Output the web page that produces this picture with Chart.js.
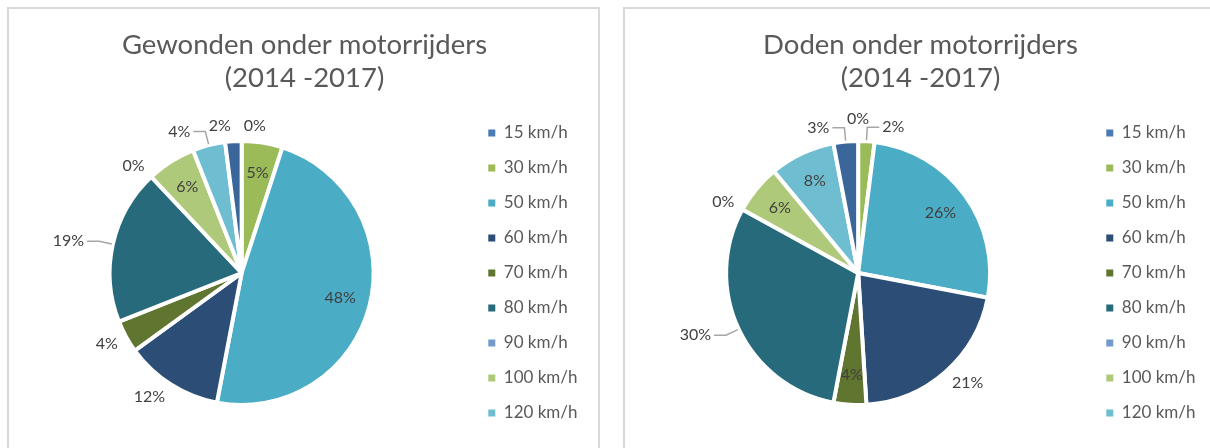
<!DOCTYPE html>
<html>
<head>
<meta charset="utf-8">
<script src="https://cdn.jsdelivr.net/npm/chart.js@4.4.1/dist/chart.umd.min.js"></script>
<style>
  body { margin: 0; background: #fff; width: 1210px; height: 448px; overflow: hidden; position: relative; }
  .panel { position: absolute; top: 7px; height: 470px; border: 2px solid #d9d9d9; background: #fff; }
  #p1 { left: 7px; width: 589px; }
  #p2 { left: 623px; width: 600px; }
  canvas { display: block; }
</style>
</head>
<body>
<div class="panel" id="p1"><canvas id="gewondenChart" width="589" height="439"></canvas></div>
<div class="panel" id="p2"><canvas id="dodenChart" width="595" height="439"></canvas></div>
<script>
// categories (last one is not in the legend of the original)
const speeds = ['15 km/h', '30 km/h', '50 km/h', '60 km/h', '70 km/h', '80 km/h', '90 km/h', '100 km/h', '120 km/h', 'Onbekend'];
const legendCount = 9;

// shares in %
const gewonden = [0, 5, 48, 12, 4, 19, 0, 6, 4, 2];
const doden = [0, 2, 26, 21, 4, 30, 0, 6, 8, 3];

const gewondenTitle = ['Gewonden onder motorrijders', '(2014 -2017)'];
const dodenTitle = ['Doden onder motorrijders', '(2014 -2017)'];

const sliceColors = ['#4a7bb7', '#9bbb59', '#4bacc6', '#2c4d75', '#5f7530', '#276a7c', '#729aca', '#afc97a', '#6fbdd1', '#3a6699'];

// where each data label goes: in = inside slice, out = beside slice, line = with leader line, top = centred above
const gewondenPlace = ['out', 'in', 'in', 'out', 'out', 'line', 'out', 'in', 'line', 'out'];
const dodenPlace = ['top', 'line', 'in', 'out', 'in', 'line', 'out', 'in', 'in', 'line'];

const FONT = 'Lato, "Open Sans", sans-serif';
const TEXT = '#595959';

const pieLabels = {
  id: 'pieLabels',
  afterDatasetsDraw(chart, args, opts) {
    const ctx = chart.ctx;
    const meta = chart.getDatasetMeta(0);
    const values = chart.data.datasets[0].data;
    const total = values.reduce((a, b) => a + b, 0);
    ctx.save();
    ctx.font = '16px ' + FONT;
    ctx.fillStyle = '#404040';
    ctx.strokeStyle = '#a6a6a6';
    ctx.lineWidth = 1.5;
    ctx.textBaseline = 'middle';
    meta.data.forEach((arc, i) => {
      const p = arc.getProps(['x', 'y', 'startAngle', 'endAngle', 'outerRadius'], true);
      const mid = (p.startAngle + p.endAngle) / 2;
      const dx = Math.cos(mid), dy = Math.sin(mid);
      const r = p.outerRadius;
      const text = Math.round(values[i] / total * 100) + '%';
      const place = opts.place[i];
      const right = dx >= 0;
      if (place === 'in') {
        ctx.textAlign = 'center';
        ctx.fillText(text, p.x + dx * r * 0.77, p.y + dy * r * 0.77);
      } else if (place === 'top') {
        ctx.textAlign = 'center';
        ctx.fillText(text, p.x + dx * (r + 22), p.y + dy * (r + 22));
      } else if (place === 'out') {
        const ax = p.x + dx * (r + 7);
        const ay = p.y + dy * (r + 7) + dy * 8;
        ctx.textAlign = right ? 'left' : 'right';
        ctx.fillText(text, ax + (right ? 2 : -2), ay);
      } else {
        const ex = p.x + dx * (r + 1), ey = p.y + dy * (r + 1);
        const bx = p.x + dx * (r + 14), by = p.y + dy * (r + 14);
        const hx = bx + (right ? 12 : -12);
        ctx.beginPath();
        ctx.moveTo(ex, ey);
        ctx.lineTo(bx, by);
        ctx.lineTo(hx, by);
        ctx.stroke();
        ctx.textAlign = right ? 'left' : 'right';
        ctx.fillText(text, hx + (right ? 3 : -3), by);
      }
    });
    ctx.restore();
  }
};

// centre the title over the whole panel, not over the space left of the legend
const titleCentre = {
  id: 'titleCentre',
  afterLayout(chart, args, opts) {
    const t = chart.titleBlock;
    const half = (t.right - t.left) / 2;
    t.left = opts.x - half;
    t.right = opts.x + half;
  }
};

function makePie(canvasId, title, values, place, pad) {
  return new Chart(document.getElementById(canvasId), {
    type: 'pie',
    data: {
      labels: speeds,
      datasets: [{
        data: values,
        backgroundColor: sliceColors,
        borderColor: '#ffffff',
        borderWidth: 4,
        radius: 132
      }]
    },
    plugins: [pieLabels, titleCentre],
    options: {
      responsive: false,
      animation: false,
      devicePixelRatio: 1,
      layout: { padding: { left: pad.left, right: pad.right, top: 0, bottom: 1 } },
      plugins: {
        tooltip: { enabled: false },
        title: {
          display: true,
          text: title,
          color: TEXT,
          font: { family: FONT, size: 27.5, weight: 'normal', lineHeight: 1.2 },
          padding: { top: 19.5, bottom: 4.5 }
        },
        titleCentre: { x: 295.5 },
        legend: {
          position: 'right',
          fullSize: false,
          labels: {
            color: TEXT,
            font: { family: FONT, size: 17 },
            boxWidth: 7,
            boxHeight: 7,
            padding: 18,
            filter: (item) => item.index < legendCount,
            generateLabels: (chart) => Chart.overrides.pie.plugins.legend.labels.generateLabels(chart)
              .map((item) => Object.assign(item, { lineWidth: 0 }))
          }
        },
        pieLabels: { place: place }
      }
    }
  });
}

makePie('gewondenChart', gewondenTitle, gewonden, gewondenPlace, { left: 4, right: 10.5 });
makePie('dodenChart', dodenTitle, doden, dodenPlace, { left: 3, right: 14.5 });
</script>
</body>
</html>
